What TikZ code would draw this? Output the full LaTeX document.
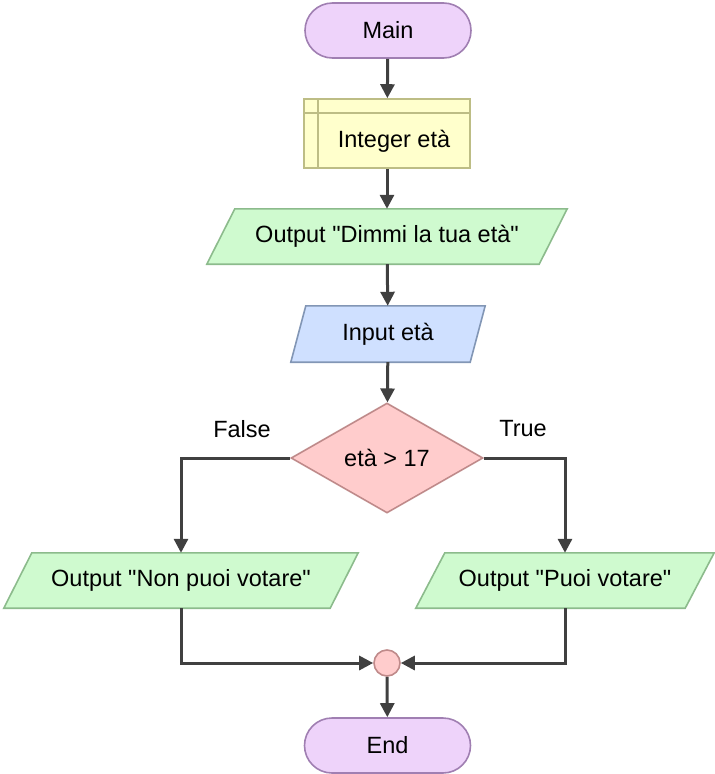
\documentclass[tikz,border=0pt]{standalone}
\usepackage{fontspec}
\setmainfont{Liberation Sans}
\usetikzlibrary{shapes.geometric,arrows.meta,backgrounds}

\definecolor{termfill}{HTML}{EED3FA}
\definecolor{termline}{HTML}{A07FB2}
\definecolor{declfill}{HTML}{FFFFCC}
\definecolor{declline}{HTML}{BDBD85}
\definecolor{outfill}{HTML}{CFFACF}
\definecolor{outline}{HTML}{8CBB8C}
\definecolor{infill}{HTML}{CFE0FF}
\definecolor{inline}{HTML}{8296B5}
\definecolor{condfill}{HTML}{FFCCCC}
\definecolor{condline}{HTML}{BF8A8A}
\definecolor{wire}{HTML}{404040}

\newcommand{\qt}{\textquotedbl}

\tikzset{
  every node/.style={font=\fontsize{23.5}{28}\selectfont, text=black},
  terminal/.style={rectangle, rounded corners=27.5, draw=termline, fill=termfill,
    line width=1.6, minimum width=166, minimum height=55, inner sep=0},
  decl/.style={rectangle, draw=declline, fill=declfill, line width=1.6,
    minimum width=166, minimum height=69, inner sep=0},
  iobox/.style={rectangle, minimum height=55, inner sep=0},
  outshape/.style={draw=outline, fill=outfill, line width=1.6, line join=miter},
  inshape/.style={draw=inline, fill=infill, line width=1.6},
  cond/.style={diamond, aspect=1.745, draw=condline, fill=condfill, line width=1.6,
    minimum width=192, minimum height=110, inner sep=0},
  junction/.style={circle, draw=condline, fill=condfill, line width=1.6,
    minimum size=26, inner sep=0},
  flow/.style={draw=wire, line width=3, -{Triangle[length=14,width=14]}},
}

\begin{document}
\begin{tikzpicture}[x=1pt, y=-1pt]
  \useasboundingbox (0,0) rectangle (715,774);

  % start and declaration
  \node[terminal] (main) at (388,30.5) {Main};
  \node[decl] (decl) at (387,133.5) {};
  \node (decltext) at (394,141) {Integer età};
  \draw[declline, line width=1.6] (decl.north west |- 0,113) -- (decl.north east |- 0,113);
  \draw[declline, line width=1.6] (318,0 |- decl.north) -- (318,0 |- decl.south);

  % output prompt
  \node[iobox, minimum width=360] (ask) at (387,236.5) {Output \qt Dimmi la tua età\qt};
  % input
  \node[iobox, minimum width=194, minimum height=56] (read) at (388,334) {Input età};

  % decision
  \node[cond] (test) at (387,458) {};
  \node at (387,458) {età > 17};
  \node (lblF) at (242,429) {False};
  \node (lblT) at (523,429) {True};

  % the two outputs
  \node[iobox, minimum width=354] (no) at (181,580.5) {Output \qt Non puoi votare\qt};
  \node[iobox, minimum width=298] (yes) at (565,580.5) {Output \qt Puoi votare\qt};

  % merge and end
  \node[junction] (join) at (387,663) {};
  \node[terminal] (fin) at (387.5,745.5) {End};

  % parallelogram outlines behind the texts
  \begin{scope}[on background layer]
    \path[outshape] ([xshift=28]ask.north west) -- (ask.north east)
      -- ([xshift=-28]ask.south east) -- (ask.south west) -- cycle;
    \path[inshape] ([xshift=15]read.north west) -- (read.north east)
      -- ([xshift=-15]read.south east) -- (read.south west) -- cycle;
    \path[outshape] ([xshift=28]no.north west) -- (no.north east)
      -- ([xshift=-28]no.south east) -- (no.south west) -- cycle;
    \path[outshape] ([xshift=29]yes.north west) -- (yes.north east)
      -- ([xshift=-29]yes.south east) -- (yes.south west) -- cycle;
  \end{scope}

  % connectors
  \draw[flow] (main) -- (decl);
  \draw[flow] (decl) -- (ask);
  \draw[flow] (ask) -- (read);
  \draw[flow] (read) -- (test);
  \draw[flow] (test.west) -| (no.north);
  \draw[flow] (test.east) -| (yes.north);
  \draw[flow] (no.south) |- (join.west);
  \draw[flow] (yes.south) |- (join.east);
  \draw[flow] (join) -- (fin);
\end{tikzpicture}
\end{document}
